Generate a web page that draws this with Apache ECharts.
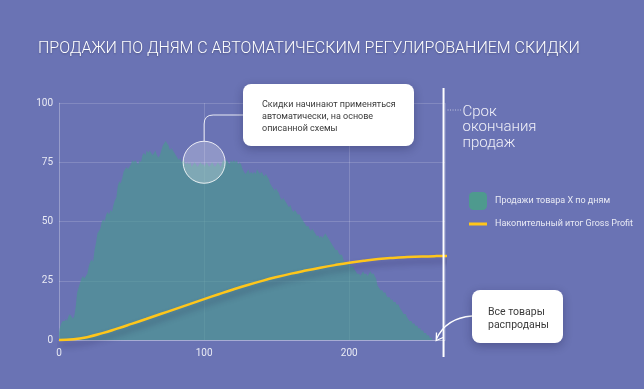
<!DOCTYPE html>
<html>
<head>
<meta charset="utf-8">
<script src="https://cdn.jsdelivr.net/npm/echarts@6/dist/echarts.min.js"></script>
<style>
html,body{margin:0;padding:0;background:#6A73B4;}
#c{width:644px;height:389px;}
</style>
</head>
<body>
<div id="c"></div>
<script>
const titleText = 'ПРОДАЖИ ПО ДНЯМ С АВТОМАТИЧЕСКИМ РЕГУЛИРОВАНИЕМ СКИДКИ';
const salesName = 'Продажи товара Х по дням';
const profitName = 'Накопительный итог Gross Profit';

// daily sales, index = day
const sales = [
3,5,7,8,8,9,8,10,11,10,9,10,
14,20,22,24,
26,27,26,27,28,
31,33,34,33,
38,41,45,46,47,
50,51,50,
53,54,53,55,54,
57,59,60,
65,67,66,68,
71,72,73,72,73,74,
76,75,76,75,74,76,75,
78,79,78,80,79,80,79,78,
79,80,78,77,78,80,82,
83,84,83,82,80,81,
80,79,78,77,76,77,75,76,75,
74,75,74,75,73,74,75,74,73,74,75,74,74,73,75,74,73,74,75,74,73,74,75,74,73,75,
76,75,76,75,74,76,75,76,75,76,74,75,74,
72,71,70,71,72,70,71,
70,71,70,72,71,70,71,70,69,70,69,68,
66,65,64,63,64,63,62,
60,59,60,59,58,57,56,57,
55,54,55,54,53,53,52,51,50,
49,48,48,47,46,47,46,45,44,
44,43,44,43,44,45,44,43,42,
41,40,39,38,38,37,36,36,35,
33,33,32,33,32,31,31,
30,29,28,28,27,28,29,28,
28,27,28,29,28,28,27,26,
23,22,21,21,20,20,19,18,
18,17,17,16,16,15,15,14,
13,12,11,11,10,9,8,8,
7,7,6,6,5,5,4,4,
3,3,2,2,1,1
];

// cumulative gross profit: [day, value]
const profitDays =   [0, 10,  20,  30,  40,  50,  60,   70,    80,    90,    100,   110,  120,  130,  140,   150,   160,  170,  180,  190,  200,  210,   220,   230,   240,  250,  260,  273];
const profitValues = [0, 0.3, 1.3, 2.9, 4.8, 6.8, 8.85, 10.95, 13.05, 15.15, 17.25, 19.3, 21.3, 23.2, 24.95, 26.55, 28.0, 29.3, 30.5, 31.6, 32.6, 33.45, 34.15, 34.65, 35.0, 35.25, 35.4, 35.5];

const yTicks = [0, 25, 50, 75, 100];
const xTicks = [0, 100, 200];
const endDay = 265;
const discountPoint = [100, 75];

const callout1 = ['Скидки начинают применяться', 'автоматически, на основе', 'описанной схемы'];
const callout2 = ['Все товары', 'распроданы'];
const endText = ['Срок', 'окончания', 'продаж'];

const chart = echarts.init(document.getElementById('c'), null, {renderer: 'canvas'});
const gridColor = 'rgba(255,255,255,0.16)';
const labelColor = 'rgba(255,255,255,0.85)';

chart.setOption({
  backgroundColor: '#6A73B4',
  animation: false,
  title: {
    text: titleText,
    left: 33, top: 36,
    textStyle: {color: '#ffffff', fontFamily: 'Roboto', fontWeight: 300, fontSize: 16,
      textShadowColor: 'rgba(0,0,0,0.25)', textShadowBlur: 2, textShadowOffsetY: 1}
  },
  grid: {left: 59, top: 103, right: 199, bottom: 49, containLabel: false},
  xAxis: {
    type: 'value', min: 0, max: 266, interval: 100,
    axisLine: {show: true, lineStyle: {color: 'rgba(255,255,255,0.3)'}},
    axisTick: {show: false},
    axisLabel: {color: labelColor, fontFamily: 'Roboto', fontSize: 10, margin: 8, showMaxLabel: false},
    splitLine: {show: true, lineStyle: {color: gridColor}}
  },
  yAxis: {
    type: 'value', min: 0, max: 100, interval: 25,
    axisLine: {show: true, lineStyle: {color: gridColor}},
    axisTick: {show: false},
    axisLabel: {color: labelColor, fontFamily: 'Roboto', fontSize: 10, margin: 6},
    splitLine: {show: true, lineStyle: {color: gridColor}}
  },
  legend: [
    {
      data: [{name: salesName, icon: 'roundRect'}],
      left: 464, top: 187, itemWidth: 18, itemHeight: 18, selectedMode: false,
      textStyle: {color: labelColor, fontFamily: 'Roboto', fontSize: 9, padding: [0,0,0,3]}
    },
    {
      data: [{name: profitName, icon: 'rect'}],
      left: 464, top: 214.5, itemWidth: 18, itemHeight: 3, selectedMode: false,
      textStyle: {color: labelColor, fontFamily: 'Roboto', fontSize: 9, padding: [0,0,0,3]}
    }
  ],
  series: [
    {
      name: salesName, type: 'line', step: 'middle',
      data: sales.map((v, i) => [i, v]),
      showSymbol: false, symbol: 'none',
      itemStyle: {color: '#4E9A8E'},
      lineStyle: {width: 0},
      areaStyle: {color: '#4A9890', opacity: 0.66},
      z: 1
    },
    {
      name: profitName, type: 'line', smooth: 0.5, clip: false,
      data: profitDays.map((d, i) => [d, profitValues[i]]),
      showSymbol: false, symbol: 'none',
      itemStyle: {color: '#FFC61A'},
      lineStyle: {color: '#FFC61A', width: 2.5, shadowColor: 'rgba(30,25,70,0.4)', shadowBlur: 6, shadowOffsetY: 5},
      z: 3
    }
  ]
});

const c = chart.convertToPixel({gridIndex: 0}, discountPoint);
const ex = chart.convertToPixel({gridIndex: 0}, [endDay, 0])[0];

const shadow = {shadowColor: 'rgba(20,20,60,0.3)', shadowBlur: 10, shadowOffsetY: 3};
chart.setOption({
  graphic: [
    {type: 'line', shape: {x1: ex, y1: 88, x2: ex, y2: 357}, style: {stroke: '#ffffff', lineWidth: 2}, z: 10},
    {type: 'line', shape: {x1: ex + 4, y1: 110, x2: ex + 18, y2: 110}, style: {stroke: 'rgba(255,255,255,0.6)', lineWidth: 1, lineDash: [1, 1.5]}, z: 10},
    {type: 'text', x: ex + 19, y: 104, style: {text: endText.join('\n'), fill: '#F0F0F8', font: '300 15px Roboto', lineHeight: 15.5, verticalAlign: 'top'}, z: 10},
    {type: 'circle', shape: {cx: c[0], cy: c[1], r: 21}, style: {fill: 'rgba(255,255,255,0.25)', stroke: 'rgba(255,255,255,0.85)', lineWidth: 1}, z: 10},
    {type: 'polyline', shape: {points: [[c[0], c[1] - 21], [c[0], 124]]}, style: {fill: null, stroke: 'rgba(255,255,255,0.85)', lineWidth: 1}, z: 10},
    {type: 'bezierCurve', shape: {x1: c[0], y1: 124, cpx1: c[0], cpy1: 115, x2: c[0] + 9, y2: 115}, style: {fill: null, stroke: 'rgba(255,255,255,0.85)', lineWidth: 1}, z: 10},
    {type: 'line', shape: {x1: c[0] + 9, y1: 115, x2: 243, y2: 115}, style: {stroke: 'rgba(255,255,255,0.85)', lineWidth: 1}, z: 10},
    {type: 'rect', shape: {x: 243, y: 84, width: 171, height: 62, r: 8}, style: Object.assign({fill: '#ffffff'}, shadow), z: 11},
    {type: 'text', x: 262, y: 98.5, style: {text: callout1.join('\n'), fill: '#3b3b3b', font: '9px Roboto', lineHeight: 12, verticalAlign: 'top'}, z: 12},
    {type: 'bezierCurve', shape: {x1: 472, y1: 316, cpx1: 446, cpy1: 318, x2: 436.5, y2: 339}, style: {fill: null, stroke: '#ffffff', lineWidth: 1.3}, z: 10},
    {type: 'polyline', shape: {points: [[436.5, 332.5], [436.2, 340.5], [443, 337.5]]}, style: {fill: null, stroke: '#ffffff', lineWidth: 1.3}, z: 10},
    {type: 'rect', shape: {x: 472, y: 290, width: 91, height: 53, r: 8}, style: Object.assign({fill: '#ffffff'}, shadow), z: 11},
    {type: 'text', x: 488, y: 305.5, style: {text: callout2.join('\n'), fill: '#3b3b3b', font: '10.5px Roboto', lineHeight: 13, verticalAlign: 'top'}, z: 12}
  ]
});
</script>
</body>
</html>
